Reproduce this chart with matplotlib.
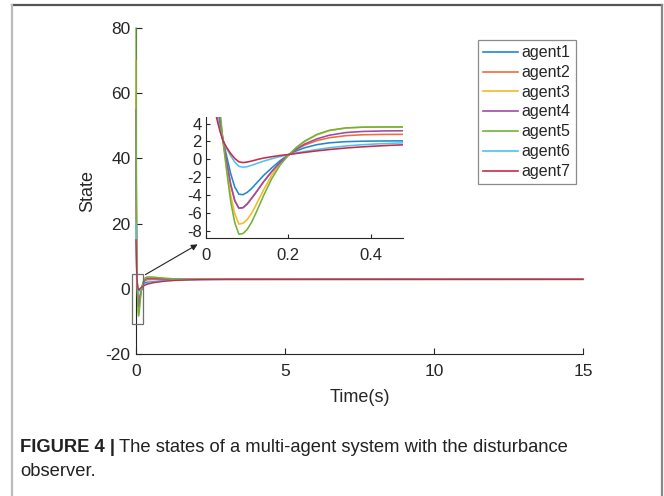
import matplotlib
matplotlib.use("Agg")
import matplotlib.pyplot as plt
from matplotlib.patches import Rectangle, FancyArrowPatch
from matplotlib.lines import Line2D

plt.rcParams["font.family"] = ["Liberation Sans", "DejaVu Sans"]
plt.rcParams["axes.unicode_minus"] = False

# sample times (s) and states
t = [0, 0.01, 0.02, 0.025, 0.03, 0.035, 0.04, 0.045, 0.05, 0.06, 0.07, 0.08, 0.09,
     0.10, 0.11, 0.12, 0.13, 0.14, 0.16, 0.18, 0.20, 0.22, 0.24, 0.27, 0.30, 0.34,
     0.38, 0.43, 0.48, 0.6, 0.8, 1.0, 1.3, 1.7, 2.2, 3.0, 15.0]

agent1 = [40, 20, 9.8, 7.1, 5.2, 3.7, 2.45, 1.4, 0.4, -1.6, -3.1, -3.9, -3.95,
          -3.7, -3.3, -2.8, -2.3, -1.8, -0.95, -0.15, 0.49, 0.95, 1.3, 1.65, 1.85, 1.98,
          2.03, 2.06, 2.07, 2.2, 2.38, 2.55, 2.7, 2.8, 2.86, 2.89, 2.9]
agent2 = [60, 31.5, 15, 10.2, 6.7, 4.2, 2.6, 1.2, -0.2, -2.85, -4.65, -5.48, -5.42,
          -5.02, -4.42, -3.82, -3.17, -2.52, -1.37, -0.36, 0.47, 1.1, 1.6, 2.1, 2.42, 2.65,
          2.75, 2.79, 2.8, 2.84, 2.87, 2.88, 2.89, 2.9, 2.9, 2.9, 2.9]
agent3 = [70, 36, 17, 11.2, 7.3, 4.6, 2.55, 0.85, -0.85, -4.0, -6.1, -7.25, -7.15,
          -6.75, -6.1, -5.25, -4.33, -3.42, -1.75, -0.45, 0.46, 1.3, 2.0, 2.75, 3.22, 3.5,
          3.6, 3.63, 3.63, 3.55, 3.38, 3.22, 3.07, 2.97, 2.92, 2.9, 2.9]
agent4 = [55, 29, 14, 9.5, 6.3, 4.0, 2.5, 1.15, -0.2, -2.8, -4.6, -5.45, -5.4,
          -5.0, -4.4, -3.8, -3.15, -2.5, -1.35, -0.35, 0.47, 1.15, 1.72, 2.3, 2.7, 3.0,
          3.12, 3.18, 3.2, 3.18, 3.1, 3.03, 2.97, 2.93, 2.91, 2.9, 2.9]
agent5 = [80, 41, 20, 13, 8.2, 5.0, 2.6, 0.7, -1.2, -4.7, -7.1, -8.38, -8.3,
          -7.85, -7.1, -6.15, -5.1, -4.05, -2.15, -0.65, 0.45, 1.35, 2.05, 2.8, 3.25, 3.52,
          3.6, 3.62, 3.62, 3.55, 3.38, 3.22, 3.07, 2.97, 2.92, 2.9, 2.9]
agent6 = [20, 12, 6.8, 5.3, 4.15, 3.15, 2.35, 1.75, 1.25, 0.4, -0.3, -0.78, -0.88,
          -0.82, -0.68, -0.52, -0.36, -0.2, 0.07, 0.32, 0.53, 0.72, 0.88, 1.1, 1.3, 1.5,
          1.64, 1.76, 1.85, 2.05, 2.28, 2.46, 2.63, 2.76, 2.84, 2.89, 2.9]
agent7 = [15, 9.5, 5.9, 4.8, 3.85, 3.0, 2.25, 1.75, 1.35, 0.65, 0.1, -0.28, -0.36,
          -0.3, -0.2, -0.08, 0.04, 0.14, 0.3, 0.43, 0.54, 0.66, 0.78, 0.95, 1.1, 1.27,
          1.4, 1.53, 1.63, 1.88, 2.14, 2.36, 2.57, 2.72, 2.82, 2.88, 2.9]

names = ["agent1", "agent2", "agent3", "agent4", "agent5", "agent6", "agent7"]
series = [agent1, agent2, agent3, agent4, agent5, agent6, agent7]
colors = ["#1f88cf", "#f26b3a", "#f6b826", "#9e4aa8", "#6fb33b", "#4dc3ee", "#c92a48"]

main_yticks = [-20, 0, 20, 40, 60, 80]
main_xticks = [0, 5, 10, 15]
zoom_yticks = [-8, -6, -4, -2, 0, 2, 4]
zoom_xticks = [0, 0.2, 0.4]

W, H = 664, 496
fig = plt.figure(figsize=(W / 100, H / 100), dpi=100)
axc = "#262626"


def style(ax, size):
    for s in ("top", "right"):
        ax.spines[s].set_visible(False)
    for s in ("left", "bottom"):
        ax.spines[s].set_color(axc)
        ax.spines[s].set_linewidth(0.8)
    ax.tick_params(direction="in", length=4, width=0.8, colors=axc, labelsize=size)


# ── main axes ──
ax = fig.add_axes([136 / W, 1 - 354 / H, 447 / W, 326 / H])
for y, c in zip(series, colors):
    ax.plot(t, y, color=c, lw=1.0, zorder=3, clip_on=False)
ax.set_xlim(0, 15)
ax.set_ylim(-20, 80)
ax.set_xticks(main_xticks)
ax.set_yticks(main_yticks)
style(ax, 12.5)
ax.tick_params(axis="y", pad=4)
ax.tick_params(axis="x", pad=7)
ax.set_xlabel("Time(s)", fontsize=13, color=axc)
ax.set_ylabel("State", fontsize=13, color=axc)
ax.xaxis.set_label_coords(0.5, -0.108)
ax.yaxis.set_label_coords(-0.09, 0.5)

ax.add_patch(Rectangle((-0.15, -10.7), 0.40, 15.1, fill=False, ec="#6e6e6e",
                       lw=0.9, clip_on=False, zorder=5))

handles = [Line2D([], [], color=c, lw=1.2) for c in colors]
leg = fig.legend(handles, names, loc="upper left", bbox_to_anchor=(478 / W, 1 - 40 / H),
                 fontsize=11.5, frameon=True, fancybox=False, handlelength=2.2,
                 handletextpad=0.2, labelspacing=0.3, borderpad=0.32,
                 borderaxespad=0, handleheight=0.6)
leg.get_frame().set_edgecolor("#6e6e6e")
leg.get_frame().set_linewidth(0.9)
for txt in leg.get_texts():
    txt.set_color(axc)

# ── inset ──
ins = fig.add_axes([206 / W, 1 - 238 / H, 197 / W, 121 / H])
for y, c in zip(series, colors):
    ins.plot(t, y, color=c, lw=1.15)
ins.set_xlim(0, 0.479)
ins.set_ylim(-8.8, 4.74)
ins.set_xticks(zoom_xticks)
ins.set_xticklabels(["0", "0.2", "0.4"])
ins.set_yticks(zoom_yticks)
style(ins, 12)
ins.tick_params(length=3)
ins.tick_params(axis="y", pad=3)
ins.tick_params(axis="x", pad=7)
ins.patch.set_alpha(0)

fig.add_artist(FancyArrowPatch(
    (143 / W, 1 - 276 / H), (200 / W, 1 - 243 / H), transform=fig.transFigure,
    arrowstyle="-|>", mutation_scale=9, color="#222222", lw=0.8))

# ── frame and caption ──
fig.add_artist(Line2D([12 / W, 662 / W], [1 - 4.5 / H] * 2, transform=fig.transFigure,
                      color="#555555", lw=1.6))
fig.add_artist(Line2D([12 / W] * 2, [0, 1 - 4.5 / H], transform=fig.transFigure,
                      color="#bbbbbb", lw=1.6))
fig.add_artist(Line2D([662 / W] * 2, [0, 1 - 4.5 / H], transform=fig.transFigure,
                      color="#888888", lw=1.6))

cap = 13.2
b = fig.text(20 / W, 1 - 447 / H, "FIGURE 4 |", fontsize=cap, fontweight="bold",
             va="center", color="#222222")
fig.canvas.draw()
bb = b.get_window_extent()
fig.text((bb.x1 + 4) / W, 1 - 447 / H,
         "The states of a multi-agent system with the disturbance",
         fontsize=cap, va="center", color="#222222")
fig.text(20 / W, 1 - 471 / H, "observer.", fontsize=cap, va="center", color="#222222")

fig.savefig("out.png", dpi=100)
